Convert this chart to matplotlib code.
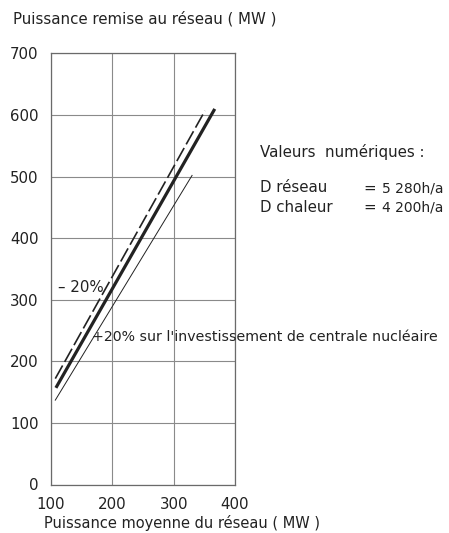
import matplotlib.pyplot as plt

# 1. Données
puissance_moy_ref = [108, 367]      # courbe de référence (trait épais)
puissance_rem_ref = [157, 610]

puissance_moy_moins = [107, 351]    # -20 % (tirets)
puissance_rem_moins = [172, 607]

puissance_moy_plus = [107, 330]     # +20 % (trait fin)
puissance_rem_plus = [137, 502]

ticks_x = [100, 200, 300, 400]
ticks_y = [0, 100, 200, 300, 400, 500, 600, 700]

W, H = 449, 533
encre = '#222222'


def pos(x, y):
    # pixels (depuis le coin haut gauche) -> coordonnées figure
    return x / W, 1 - y / H


# 2. Figure
fig = plt.figure(figsize=(W / 100, H / 100), dpi=100)
ax = fig.add_axes([51 / W, 48.5 / H, 184 / W, 431 / H])

ax.plot(puissance_moy_ref, puissance_rem_ref, color=encre, linewidth=2.3, solid_capstyle='butt')
ax.plot(puissance_moy_moins, puissance_rem_moins, color=encre, linewidth=1.2,
        dashes=(9, 2.5), dash_capstyle='butt')
ax.plot(puissance_moy_plus, puissance_rem_plus, color=encre, linewidth=0.7)

ax.set_xlim(100, 400)
ax.set_ylim(0, 700)
ax.set_xticks(ticks_x)
ax.set_yticks(ticks_y)
ax.grid(True, color='#8a8a8a', linewidth=0.8)
ax.set_axisbelow(True)
for s in ax.spines.values():
    s.set_color('#6a6a6a')
    s.set_linewidth(0.9)
ax.tick_params(length=0, labelsize=10.8, labelcolor=encre)
ax.tick_params(axis='y', pad=9)
ax.tick_params(axis='x', pad=9)

# 3. Textes
txt = dict(fontsize=10.8, color=encre, va='center', ha='left')
fig.text(*pos(13, 19), 'Puissance remise au réseau ( MW )', **txt)
fig.text(*pos(44, 523), 'Puissance moyenne du réseau ( MW )', fontsize=10.5,
         color=encre, va='center', ha='left')

fig.text(*pos(260, 152), 'Valeurs  numériques :', **txt)
fig.text(*pos(260, 188), 'D réseau', **txt)
fig.text(*pos(260, 207), 'D chaleur', **txt)
fig.text(*pos(363, 188), '=', **txt)
fig.text(*pos(363, 207), '=', **txt)
fig.text(*pos(382, 188), '5 280h/a', fontsize=10, color=encre, va='center', ha='left')
fig.text(*pos(382, 207), '4 200h/a', fontsize=10, color=encre, va='center', ha='left')

fig.text(*pos(58, 287), '– 20%', **txt)
fig.text(*pos(92, 337), '+20% sur l\'investissement de centrale nucléaire', fontsize=10.2,
         color=encre, va='center', ha='left')

plt.savefig('out.png', dpi=100)
